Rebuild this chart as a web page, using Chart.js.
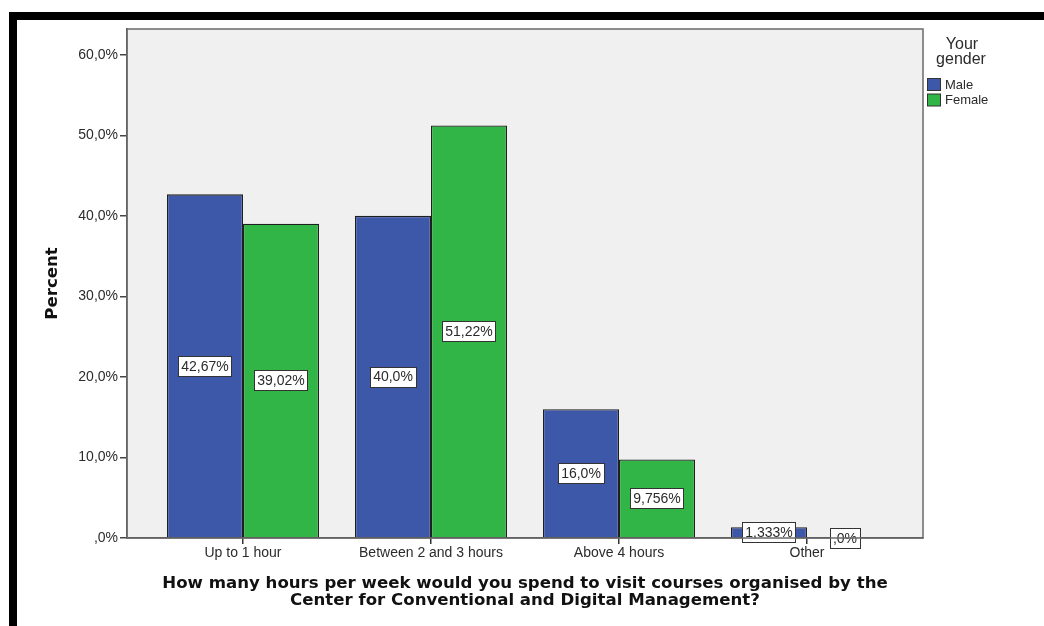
<!DOCTYPE html>
<html>
<head>
<meta charset="utf-8">
<script src="https://cdn.jsdelivr.net/npm/chart.js@4"></script>
<style>
  html, body { margin: 0; padding: 0; background: #ffffff; }
  #wrap { position: relative; width: 1044px; height: 626px; overflow: hidden; }
  #frame {
    position: absolute; left: 9px; top: 12px; right: 0; bottom: 0;
    border-top: 8px solid #000; border-left: 8px solid #000;
  }
  canvas { position: absolute; left: 0; top: 0; }
</style>
</head>
<body>
<div id="wrap">
  <div id="frame"></div>
  <canvas id="c" width="1044" height="626"></canvas>
</div>
<script>
// Hours per week respondents would spend on courses, split by gender
const categories = ['Up to 1 hour', 'Between 2 and 3 hours', 'Above 4 hours', 'Other'];
const maleValues = [42.67, 40.0, 16.0, 1.333];
const femaleValues = [39.02, 51.22, 9.756, 0];
const maleLabels = ['42,67%', '40,0%', '16,0%', '1,333%'];
const femaleLabels = ['39,02%', '51,22%', '9,756%', ',0%'];
const yTickValues = [0, 10, 20, 30, 40, 50, 60];
const yTickLabels = [',0%', '10,0%', '20,0%', '30,0%', '40,0%', '50,0%', '60,0%'];
const seriesNames = ['Male', 'Female'];
const legendTitle = ['Your', 'gender'];
const xTitle = ['How many hours per week would you spend to visit courses organised by the',
                'Center for Conventional and Digital Management?'];
const yTitle = 'Percent';

const MALE = '#3d57a9';
const FEMALE = '#30b546';
const TEXT = '#2b2b2b';
const tickFont = { family: 'Liberation Sans, Arial, sans-serif', size: 14 };
const titleFont = { family: 'DejaVu Sans, sans-serif', size: 16.6, weight: 'bold', lineHeight: 17 / 16.6 };

// Grey plot panel with a dark frame
const panel = {
  id: 'panel',
  beforeDraw(chart) {
    const { ctx, chartArea: a } = chart;
    ctx.save();
    ctx.fillStyle = '#f0f0f0';
    ctx.fillRect(a.left, a.top, a.right - a.left, a.bottom - a.top);
    ctx.restore();
  },
  afterDraw(chart) {
    const { ctx, chartArea: a } = chart;
    ctx.save();
    ctx.strokeStyle = '#6a6a6a';
    ctx.lineWidth = 1.5;
    ctx.strokeRect(a.left, a.top, a.right - a.left, a.bottom - a.top);
    ctx.restore();
  }
};

// Boxed value labels in the middle of each bar
const valueBoxes = {
  id: 'valueBoxes',
  afterDatasetsDraw(chart) {
    const { ctx } = chart;
    ctx.save();
    ctx.font = '14px Liberation Sans, Arial, sans-serif';
    ctx.textAlign = 'center';
    ctx.textBaseline = 'middle';
    chart.data.datasets.forEach((ds, di) => {
      const meta = chart.getDatasetMeta(di);
      meta.data.forEach((bar, i) => {
        const text = ds.valueLabels[i];
        const cx = bar.x;
        const cy = (bar.y + bar.base) / 2;
        const w = ctx.measureText(text).width + 6;
        const h = 20;
        ctx.fillStyle = '#ffffff';
        ctx.fillRect(Math.round(cx - w / 2) + 0.5, Math.round(cy - h / 2) + 0.5, Math.round(w), h);
        ctx.strokeStyle = '#333333';
        ctx.lineWidth = 1;
        ctx.strokeRect(Math.round(cx - w / 2) + 0.5, Math.round(cy - h / 2) + 0.5, Math.round(w), h);
        ctx.fillStyle = TEXT;
        ctx.fillText(text, cx, cy + 1);
      });
    });
    ctx.restore();
  }
};

// Legend to the right of the panel
const sideLegend = {
  id: 'sideLegend',
  afterDraw(chart) {
    const { ctx, chartArea: a } = chart;
    const x0 = a.right + 4;
    ctx.save();
    ctx.fillStyle = TEXT;
    ctx.textAlign = 'center';
    ctx.textBaseline = 'middle';
    ctx.font = '16px Liberation Sans, Arial, sans-serif';
    ctx.fillText(legendTitle[0], x0 + 35, 45);
    ctx.fillText(legendTitle[1], x0 + 34, 60);
    ctx.textAlign = 'left';
    ctx.font = '13px Liberation Sans, Arial, sans-serif';
    chart.data.datasets.forEach((ds, i) => {
      const y = 78 + i * 15.5;
      ctx.fillStyle = ds.backgroundColor;
      ctx.fillRect(x0 + 0.5, y + 0.5, 13, 12);
      ctx.strokeStyle = '#333';
      ctx.lineWidth = 1;
      ctx.strokeRect(x0 + 0.5, y + 0.5, 13, 12);
      ctx.fillStyle = TEXT;
      ctx.fillText(ds.label, x0 + 18, y + 7);
    });
    ctx.restore();
  }
};

new Chart(document.getElementById('c'), {
  type: 'bar',
  data: {
    datasets: [
      {
        label: seriesNames[0],
        data: maleValues.map((v, i) => ({ x: i, y: v })),
        valueLabels: maleLabels,
        backgroundColor: MALE,
        borderColor: '#1f1f1f',
        borderWidth: 1.3
      },
      {
        label: seriesNames[1],
        data: femaleValues.map((v, i) => ({ x: i, y: v })),
        valueLabels: femaleLabels,
        backgroundColor: FEMALE,
        borderColor: '#1f1f1f',
        borderWidth: 1.3
      }
    ]
  },
  options: {
    responsive: false,
    animation: false,
    devicePixelRatio: 1,
    layout: { padding: { top: 29, right: 121, left: 0, bottom: 0 } },
    datasets: { bar: { barPercentage: 1, categoryPercentage: 0.8085, grouped: true } },
    plugins: {
      legend: { display: false },
      tooltip: { enabled: false }
    },
    scales: {
      x: {
        type: 'linear',
        offset: false,
        min: -0.617,
        max: 3.617,
        afterFit(scale) { scale.height = 88; },
        afterBuildTicks(scale) { scale.ticks = categories.map((_, i) => ({ value: i })); },
        grid: { offset: false, drawOnChartArea: false, drawTicks: true, tickLength: 6, color: '#333', lineWidth: 1.5 },
        border: { display: true, color: '#444', width: 1.5 },
        ticks: {
          autoSkip: false,
          maxRotation: 0,
          padding: 1,
          color: TEXT,
          font: tickFont,
          callback: (v) => categories[v]
        },
        title: {
          display: true,
          text: xTitle,
          color: '#111',
          font: titleFont,
          padding: { top: 0, bottom: 17 }
        }
      },
      y: {
        min: 0,
        max: 63.2,
        afterFit(scale) { scale.width = 127; },
        afterBuildTicks(scale) { scale.ticks = yTickValues.map(v => ({ value: v })); },
        grid: { drawOnChartArea: false, drawTicks: true, tickLength: 7, color: '#444', lineWidth: 1.5 },
        border: { display: true, color: '#555', width: 1.5 },
        ticks: {
          padding: 2,
          color: TEXT,
          font: tickFont,
          callback: (v) => yTickLabels[yTickValues.indexOf(v)]
        },
        title: {
          display: true,
          text: yTitle,
          color: '#111',
          font: titleFont,
          padding: { top: 44, bottom: 0 }
        }
      }
    }
  },
  plugins: [panel, valueBoxes, sideLegend]
});
</script>
</body>
</html>
